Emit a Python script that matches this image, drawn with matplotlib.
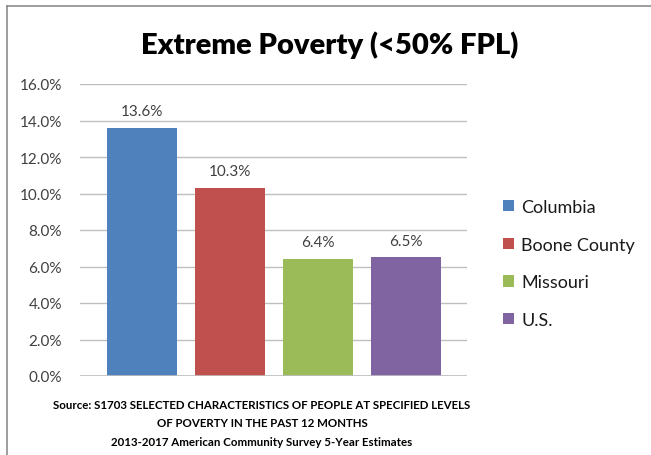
import matplotlib
matplotlib.use("Agg")
import matplotlib.pyplot as plt
from matplotlib.lines import Line2D

categories = ["Columbia", "Boone County", "Missouri", "U.S."]
values = [13.6, 10.3, 6.4, 6.5]
colors = ["#4F81BD", "#C0504D", "#9BBB59", "#8064A2"]
yticks = [0, 2, 4, 6, 8, 10, 12, 14, 16]
title = "Extreme Poverty (<50% FPL)"
source = ("Source: S1703 SELECTED CHARACTERISTICS OF PEOPLE AT SPECIFIED LEVELS\n"
          "OF POVERTY IN THE PAST 12 MONTHS\n"
          "2013-2017 American Community Survey 5-Year Estimates")

plt.rcParams['font.family'] = ['Lato', 'DejaVu Sans']

W, H = 651, 456
fig = plt.figure(figsize=(W/100, H/100), dpi=100)
ax = fig.add_axes([80/W, 1-377/H, (467-80)/W, (377-85)/H])

x = list(range(len(categories)))
bars = ax.bar(x, values, width=0.8, color=colors, zorder=3)
for xi, v in zip(x, values):
    ax.annotate(f"{v:.1f}%", (xi, v), xytext=(0, 7), textcoords="offset points",
                ha="center", va="bottom", fontsize=11, color="#404040")

ax.set_ylim(0, 16)
ax.set_xlim((80-142)/88, (467-142)/88)
ax.set_yticks(yticks)
ax.set_yticklabels([f"{t:.1f}%" for t in yticks], fontsize=11, color="#404040")
ax.tick_params(axis='y', length=0, pad=13)
ax.set_xticks([])
for s in ax.spines.values():
    s.set_visible(False)
ax.grid(axis='y', color="#BFBFBF", linewidth=1, zorder=0)
ax.axhline(0, color="#BFBFBF", linewidth=1.2, zorder=4)

leg = fig.legend(bars, categories, loc="upper left", bbox_to_anchor=(494/W, 1-191/H),
                 frameon=False, fontsize=13, handlelength=0.6, handleheight=0.6,
                 handletextpad=0.4, labelspacing=1.2, borderpad=0)
for t in leg.get_texts():
    t.set_color("#1a1a1a")

fig.text(330/W, 1-45/H, title, ha="center", va="center", fontsize=21, fontweight="heavy")
fig.text(262/W, 1-424/H, source, ha="center", va="center", fontsize=8.3, fontweight="bold",
         linespacing=1.8)

# outer frame (left and top borders)
fig.add_artist(Line2D([7/W, 7/W], [0, 1-7/H], transform=fig.transFigure, color="#8c8c8c", lw=1.2))
fig.add_artist(Line2D([7/W, 1], [1-7/H, 1-7/H], transform=fig.transFigure, color="#8c8c8c", lw=1.2))

fig.savefig("out.png", dpi=100)
